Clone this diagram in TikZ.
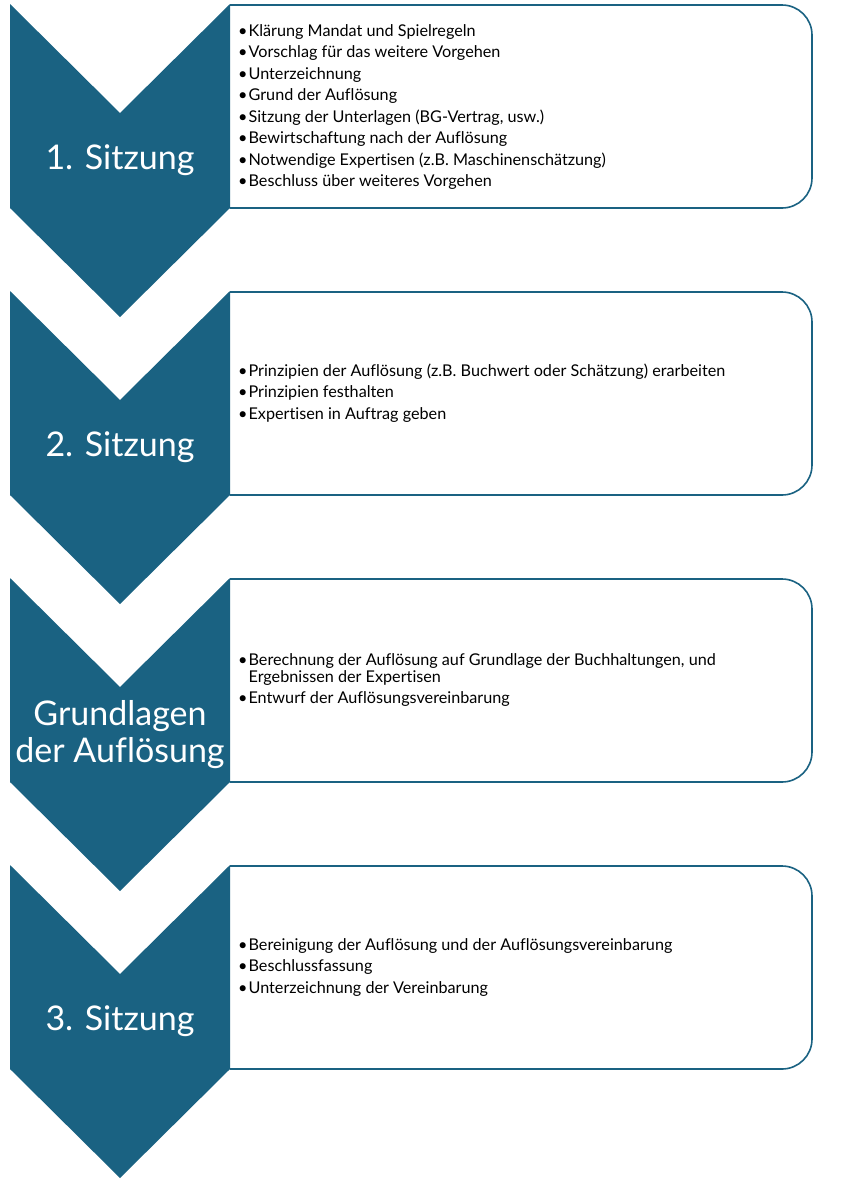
\documentclass[tikz,border=0pt]{standalone}
\usepackage{fontspec}
\setmainfont{Lato}[Ligatures={NoCommon}]
\definecolor{chev}{HTML}{1A6282}
\newcommand{\itm}{\textbullet\hspace{1pt}}
\newcommand{\hang}{\phantom{\textbullet}\hspace{1pt}}
\begin{document}
\begin{tikzpicture}[x=1pt,y=-1pt,
  chevlabel/.style={text=white, font=\fontsize{34}{37}\selectfont, align=center, inner sep=0pt},
  itemtext/.style={text=black, font=\fontsize{16.2}{17}\selectfont, align=left, anchor=west, inner sep=0pt},
  boxline/.style={draw=chev, line width=1.6pt, fill=white, rounded corners=30pt}]
\useasboundingbox (0,0) rectangle (847,1200);
\foreach \T in {4,291,578,865}{
  \filldraw[boxline] (230,\T+1) -- (812,\T+1) -- (812,\T+204) -- (230,\T+204);
  \fill[chev] (10,\T) -- (120,\T+109) -- (230,\T) -- (230,\T+204) -- (120,\T+313) -- (10,\T+204) -- cycle;
}
\node[chevlabel] (c1) at (120,160.5) {1. Sitzung};
\node[chevlabel] (c2) at (120,447.5) {2. Sitzung};
\node[chevlabel] (c3) at (120,734.5) {Grundlagen\\der Auflösung};
\node[chevlabel] (c4) at (120,1021.5) {3. Sitzung};
\node[itemtext] (t1) at (238,107) {\itm Klärung Mandat und Spielregeln\\[4.5pt]
\itm Vorschlag für das weitere Vorgehen\\[4.5pt]
\itm Unterzeichnung\\[4.5pt]
\itm Grund der Auflösung\\[4.5pt]
\itm Sitzung der Unterlagen (BG-Vertrag, usw.)\\[4.5pt]
\itm Bewirtschaftung nach der Auflösung\\[4.5pt]
\itm Notwendige Expertisen (z.B. Maschinenschätzung)\\[4.5pt]
\itm Beschluss über weiteres Vorgehen};
\node[itemtext] (t2) at (238,393) {\itm Prinzipien der Auflösung (z.B. Buchwert oder Schätzung) erarbeiten\\[4.5pt]
\itm Prinzipien festhalten\\[4.5pt]
\itm Expertisen in Auftrag geben};
\node[itemtext] (t3) at (238,680) {\itm Berechnung der Auflösung auf Grundlage der Buchhaltungen, und\\
\hang Ergebnissen der Expertisen\\[4.5pt]
\itm Entwurf der Auflösungsvereinbarung};
\node[itemtext] (t4) at (238,967) {\itm Bereinigung der Auflösung und der Auflösungsvereinbarung\\[4.5pt]
\itm Beschlussfassung\\[4.5pt]
\itm Unterzeichnung der Vereinbarung};
\end{tikzpicture}
\end{document}
